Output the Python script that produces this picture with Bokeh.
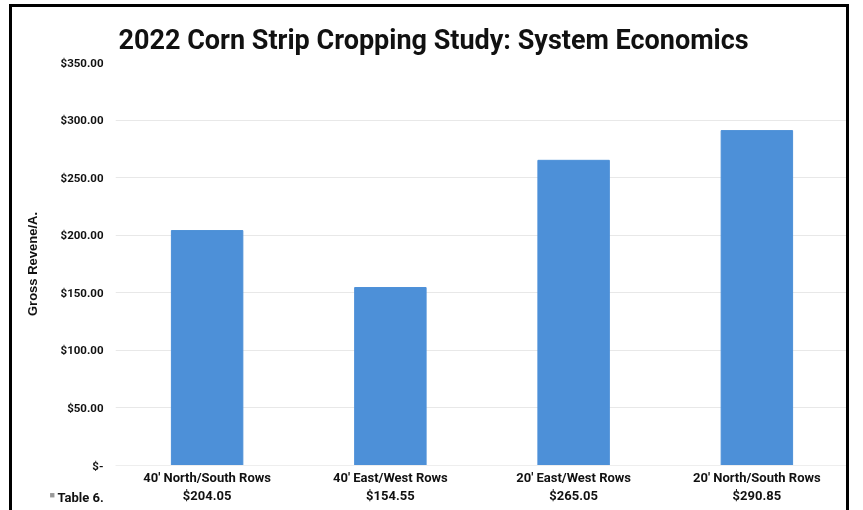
from bokeh.plotting import figure
from bokeh.models import (CategoricalAxis, FactorRange, Range1d, Label, Title,
                          FixedTicker, ColumnDataSource)
from bokeh.embed import file_html
from bokeh.resources import INLINE

categories = ["40' North/South Rows", "40' East/West Rows", "20' East/West Rows", "20' North/South Rows"]
revenue = [204.05, 154.55, 265.05, 290.85]
revenue_labels = ["$204.05", "$154.55", "$265.05", "$290.85"]
y_ticks = [0, 50, 100, 150, 200, 250, 300, 350]
y_tick_labels = ["$-", "$50.00", "$100.00", "$150.00", "$200.00", "$250.00", "$300.00", "$350.00"]
series_name = "Table 6."
title_text = "2022 Corn Strip Cropping Study: System Economics"
y_label = "Gross Revene/A."

BAR = "#4d90d8"
INK = "#111111"

p = figure(width=840, height=523, x_range=FactorRange(*categories), y_range=Range1d(0, 350),
           output_backend="svg", toolbar_location=None,
           min_border_left=103, min_border_right=4, min_border_top=55, min_border_bottom=65,
           styles={"border": "3px solid black", "position": "fixed", "top": "4px", "left": "9px"})
p.extra_x_ranges = {"vals": FactorRange(*revenue_labels)}

src = ColumnDataSource(dict(cat=categories, val=revenue))
p.vbar(x="cat", top="val", width=0.39, source=src, color=BAR)

p.outline_line_color = None
p.xgrid.grid_line_color = None
p.ygrid.grid_line_color = "#e8e8e8"
p.ygrid.grid_line_width = 1
p.ygrid.ticker = FixedTicker(ticks=y_ticks)

ya = p.yaxis[0]
ya.ticker = FixedTicker(ticks=y_ticks)
ya.major_label_overrides = {t: l for t, l in zip(y_ticks, y_tick_labels)}
ya.axis_line_color = None
ya.major_tick_line_color = None
ya.minor_tick_line_color = None
ya.major_label_text_font = "Roboto"
ya.major_label_text_font_style = "bold"
ya.major_label_text_font_size = "11.5px"
ya.major_label_text_color = INK
ya.major_label_standoff = 6
ya.axis_label = y_label
ya.axis_label_text_font = "Liberation Sans"
ya.axis_label_text_font_style = "bold"
ya.axis_label_text_font_size = "13px"
ya.axis_label_text_color = INK
ya.axis_label_standoff = 18

xa = p.xaxis[0]
xa.axis_line_color = "#eeeeee"
xa.major_tick_line_color = None
xa.minor_tick_line_color = None
xa.major_label_text_font = "Roboto"
xa.major_label_text_font_style = "bold"
xa.major_label_text_font_size = "13px"
xa.major_label_text_color = INK
xa.major_label_standoff = -2

xa2 = CategoricalAxis(x_range_name="vals")
xa2.axis_line_color = None
xa2.major_tick_line_color = None
xa2.minor_tick_line_color = None
xa2.major_label_text_font = "Roboto"
xa2.major_label_text_font_style = "bold"
xa2.major_label_text_font_size = "13px"
xa2.major_label_text_color = INK
xa2.major_label_standoff = -6
p.add_layout(xa2, "below")

p.add_layout(Title(text=title_text, align="left", offset=3, text_font="Roboto",
                   text_font_style="bold", text_font_size="27px", text_color=INK,
                   vertical_align="top", standoff=10), "above")

p.add_layout(Label(x=-58, y=23, x_units="screen", y_units="screen", text=series_name,
                   text_font="Roboto", text_font_style="bold", text_font_size="13px",
                   text_color=INK, text_baseline="middle"), "below")
p.add_layout(Label(x=-66, y=36, x_units="screen", y_units="screen", text="■",
                   text_font_size="9px", text_color="#999999", text_baseline="middle"), "below")

open("out.html", "w").write(file_html(p, INLINE))
